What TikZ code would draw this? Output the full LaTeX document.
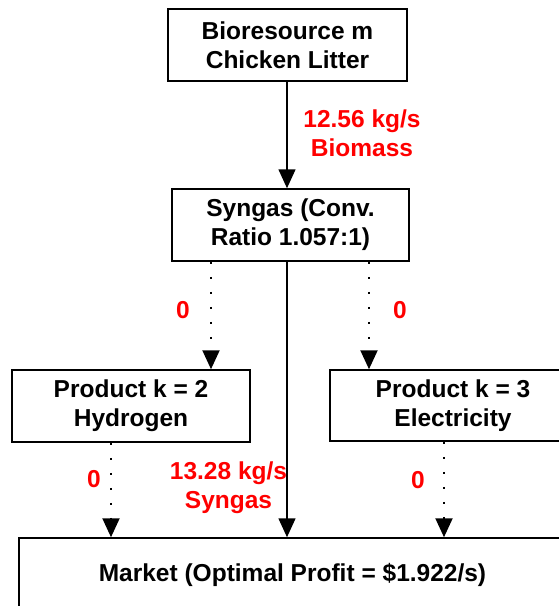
\documentclass[tikz,border=0pt]{standalone}
\usepackage{fontspec}
\setmainfont{Liberation Sans}
\usetikzlibrary{arrows.meta}
\begin{document}
\begin{tikzpicture}[x=1pt,y=-1pt,
  box/.style={draw, line width=1.5pt, inner sep=0pt, align=center,
    font=\fontsize{24.5}{29}\selectfont\bfseries},
  lbl/.style={text=red, inner sep=0pt, align=center,
    font=\fontsize{24.5}{29}\selectfont\bfseries},
  flow/.style={line width=1.5pt, -{Triangle[width=17pt,length=19pt]}},
  dotflow/.style={line width=2pt, dash pattern=on 2pt off 13pt, -{Triangle[width=17pt,length=19pt]}}]
\useasboundingbox (0,0) rectangle (559,606);
\clip (0,0) rectangle (559,606);
\node[box, minimum width=239pt, minimum height=72pt] (top) at (287.5,45) {Bioresource m\\Chicken Litter};
\node[box, minimum width=237pt, minimum height=72pt] (syn) at (290.5,225) {Syngas (Conv.\\Ratio 1.057:1)};
\node[box, minimum width=238pt, minimum height=72pt] (p2) at (131,406) {Product k = 2\\Hydrogen};
\node[box, minimum width=246pt, minimum height=71pt] (p3) at (453,405.5) {Product k = 3\\Electricity};
\node[box, minimum width=547pt, minimum height=74pt] (mkt) at (292.5,575) {Market (Optimal Profit = \$1.922/s)};
\coordinate (xa) at (287,0);
\coordinate (xl) at (211,0);
\coordinate (xr) at (369,0);
\coordinate (xbl) at (111,0);
\coordinate (xbr) at (444,0);
\draw[flow] (top.south -| xa) -- (syn.north -| xa);
\draw[flow] (syn.south -| xa) -- (mkt.north -| xa);
\draw[dotflow] (syn.south -| xl) -- (p2.north -| xl);
\draw[dotflow] (syn.south -| xr) -- (p3.north -| xr);
\draw[dotflow] (p2.south -| xbl) -- (mkt.north -| xbl);
\draw[dotflow] (p3.south -| xbr) -- (mkt.north -| xbr);
\node[lbl] (lb1) at (362,133) {12.56 kg/s\\Biomass};
\node[lbl] (lb2) at (228.5,488) {13.28 kg/s\\Syngas};
\node[lbl] (z1) at (183,310) {0};
\node[lbl] (z2) at (400,310) {0};
\node[lbl] (z3) at (94,479) {0};
\node[lbl] (z4) at (418,480) {0};
\end{tikzpicture}
\end{document}
